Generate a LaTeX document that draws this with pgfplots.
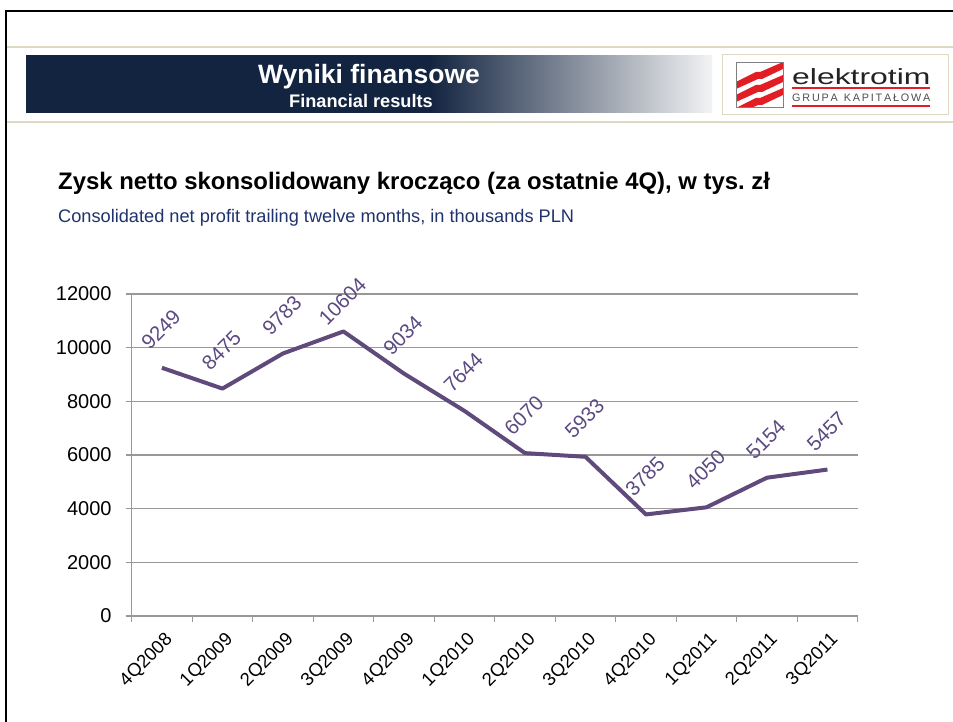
\documentclass[border=0pt]{standalone}
\usepackage{pgfplots}
\pgfplotsset{compat=1.18}
\usepackage{fontspec}
\setmainfont{Liberation Sans}
\definecolor{navy}{RGB}{19,36,64}
\definecolor{bannerend}{RGB}{242,243,244}
\definecolor{tan}{RGB}{221,217,195}
\definecolor{gridgray}{RGB}{152,152,152}
\definecolor{linepurple}{RGB}{96,74,123}
\definecolor{labelpurple}{RGB}{92,74,130}
\definecolor{subnavy}{RGB}{30,50,110}
\definecolor{logored}{RGB}{226,30,36}
\definecolor{logodark}{RGB}{35,35,35}
\pgfdeclarehorizontalshading{banner}{100bp}{color(0bp)=(navy); color(25bp)=(navy); color(54.4bp)=(navy); color(75bp)=(bannerend); color(100bp)=(bannerend)}
\pgfplotstableread{
x y dy
0 9249 38
1 8475 38
2 9783 38
3 10604 30
4 9034 38
5 7644 38
6 6070 38
7 5933 38
8 3785 38
9 4050 38
10 5154 38
11 5457 38
}\profit
\begin{document}
\begin{tikzpicture}[x=1pt,y=1pt]
\useasboundingbox (0,0) rectangle (953,722);
% slide frame
\draw[line width=2.5pt,black] (6,-20) rectangle (975,711);
\draw[tan,line width=1.5pt] (7,675) -- (953,675);
\draw[tan,line width=1.5pt] (7,600) -- (953,600);
% banner
\shade[shading=banner] (26,609) rectangle (712,666);
\node[anchor=base,text=white,inner sep=0pt,font=\fontsize{26.5}{30}\selectfont\bfseries] at (369,638.5) {Wyniki finansowe};
\node[anchor=base,text=white,inner sep=0pt,font=\fontsize{18.2}{20}\selectfont\bfseries] at (361,614.3) {Financial results};
% logo
\draw[tan,line width=1pt,fill=white] (722,607) rectangle (948,667);
\begin{scope}
\clip (736,615) rectangle (783,660);
\foreach \d in {0,13,26}{
  \fill[logored] (736,640-\d) -- (756,650-\d) -- (760,650-\d) -- (783,660-\d) -- (783,653-\d) -- (762,643-\d) -- (758,643-\d) -- (736,633-\d) -- cycle;
}
\end{scope}
\draw[gray,line width=0.8pt] (736,615) rectangle (783,660);
\node[anchor=base west,inner sep=0pt,text=logodark] at (792,637) {\scalebox{1.45}[1]{\fontsize{22}{24}\selectfont elektrotim}};
\fill[logored] (792,632.8) rectangle (930,635.2);
\node[anchor=base west,inner sep=0pt,text=logodark!80] at (792,620) {\resizebox{138pt}{!}{\fontsize{10}{12}\selectfont G\,R\,U\,P\,A\ \ K\,A\,P\,I\,T\,A\,Ł\,O\,W\,A}};
\fill[logored] (792,614.8) rectangle (930,617.2);
% titles
\node[anchor=base west,inner sep=0pt,font=\fontsize{23.9}{26}\selectfont\bfseries] at (58,532) {Zysk netto skonsolidowany krocząco (za ostatnie 4Q), w tys.~zł};
\node[anchor=base west,inner sep=0pt,text=subnavy,font=\fontsize{18.2}{20}\selectfont] at (58,499) {Consolidated net profit trailing twelve months, in thousands PLN};
% chart
\begin{axis}[
  at={(131.7pt,106pt)}, anchor=south west,
  scale only axis, width=726pt, height=322pt,
  xmin=-0.5, xmax=11.5, ymin=0, ymax=12000,
  xtick={-0.5,0.5,...,11.5}, x tick label as interval,
  xticklabels={4Q2008,1Q2009,2Q2009,3Q2009,4Q2009,1Q2010,2Q2010,3Q2010,4Q2010,1Q2011,2Q2011,3Q2011},
  ytick={0,2000,...,12000},
  /pgf/number format/1000 sep={},
  /pgf/number format/assume math mode=true,
  scaled y ticks=false,
  ymajorgrids, grid style={gridgray,line width=1.1pt},
  axis x line=bottom, axis y line=left,
  axis line style={-,gridgray,line width=1.1pt},
  tick align=outside, major tick length=6pt,
  tick style={gridgray,line width=1.1pt},
  xticklabel style={font=\fontsize{18.5}{19}\selectfont, inner sep=0pt, anchor=east, xshift=8pt, yshift=-15pt, rotate=45},
  yticklabel style={font=\fontsize{20}{20}\selectfont, inner sep=0pt, anchor=east, xshift=-14pt},
  clip=false,
]
\addplot[linepurple, line width=4pt, line join=round, mark=none,
  nodes near coords, point meta=explicit symbolic,
  visualization depends on={\thisrow{dy}\as\dy},
  nodes near coords style={font=\fontsize{20.5}{21}\selectfont, text=labelpurple, inner sep=0pt, anchor=center, xshift=-1pt, yshift=\dy pt, rotate=45}]
  table[x=x,y=y,meta=y] {\profit};
\end{axis}
\end{tikzpicture}
\end{document}
